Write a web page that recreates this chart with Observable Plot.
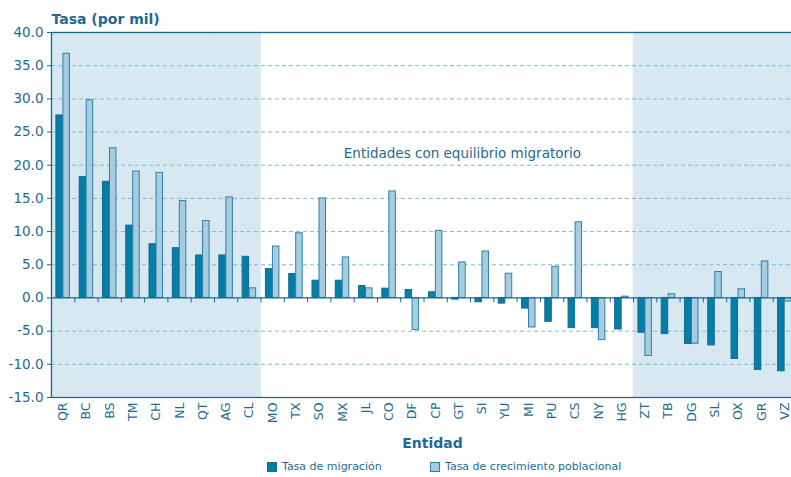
<!DOCTYPE html>
<html>
<head>
<meta charset="utf-8">
<script src="https://cdn.jsdelivr.net/npm/d3@7"></script>
<script src="https://cdn.jsdelivr.net/npm/@observablehq/plot@0.6"></script>
<style>
  html, body { margin: 0; padding: 0; background: #fff; overflow: hidden; width: 791px; height: 477px; }
  #chart svg { display: block; }
  .legend { position: relative; height: 25px; font-family: "DejaVu Sans", sans-serif; font-size: 11px; color: #1f6a92; }
  .legend .item { position: absolute; top: 8px; display: flex; align-items: center; }
  .legend .sw { width: 8px; height: 8px; border: 1px solid; margin-right: 5px; }
</style>
</head>
<body>
<div id="chart"></div>
<div class="legend" id="legend"></div>
<script>
// ---- Data ----
const entidades = ["QR","BC","BS","TM","CH","NL","QT","AG","CL","MO","TX","SO","MX","JL","CO","DF","CP","GT","SI","YU","MI","PU","CS","NY","HG","ZT","TB","DG","SL","OX","GR","VZ"];
const tasaMigracion = [27.5,18.2,17.5,10.9,8.1,7.5,6.4,6.4,6.2,4.35,3.6,2.6,2.6,1.8,1.4,1.2,0.85,-0.25,-0.65,-0.85,-1.6,-3.6,-4.55,-4.55,-4.75,-5.25,-5.45,-6.95,-7.15,-9.2,-10.85,-11.05];
const tasaCrecimiento = [36.8,29.8,22.55,19.05,18.85,14.6,11.6,15.15,1.45,7.75,9.75,15.0,6.1,1.45,16.05,-4.85,10.1,5.35,7.0,3.65,-4.45,4.7,11.4,-6.35,0.2,-8.75,0.55,-6.9,3.9,1.3,5.5,-0.55];
const sombreadas = ["QR","BC","BS","TM","CH","NL","QT","AG","CL","ZT","TB","DG","SL","OX","GR","VZ"];
const yTicks = [-15,-10,-5,0,5,10,15,20,25,30,35,40];
const gridVals = [-10,-5,5,10,15,20,25,30,35];
const titulo = "Tasa (por mil)";
const etiquetaX = "Entidad";
const anotacion = "Entidades con equilibrio migratorio";
const series = ["Tasa de migración", "Tasa de crecimiento poblacional"];

const rows = entidades.map((e, i) => ({entidad: e, mig: tasaMigracion[i], crec: tasaCrecimiento[i]}));

// ---- Style ----
const textColor = "#1f6a92";
const axisColor = "#1d6890";
const shadeColor = "#d7e8f1";
const gridColor = "#7dbad6";
const migFill = "#0080a8", migStroke = "#17698d";
const crecFill = "#a6cce0", crecStroke = "#2f7ea6";

const width = 791, height = 452;
const mL = 51, mR = -5, mT = 32, mB = 55;
const bw = (width - mL - mR) / entidades.length;
const barW = 6.5;
const inner = bw / 2 - barW - 0.25;

const chart = Plot.plot({
  width, height,
  marginLeft: mL, marginRight: mR, marginTop: mT, marginBottom: mB,
  style: {fontFamily: "DejaVu Sans, sans-serif", color: textColor, background: "transparent", overflow: "visible"},
  x: {type: "band", domain: entidades, padding: 0, round: false},
  y: {domain: [-15, 40]},
  marks: [
    Plot.barY(sombreadas, {x: d => d, y1: -15, y2: 40, fill: shadeColor, stroke: shadeColor, strokeWidth: 0.6}),
    Plot.ruleY(gridVals, {stroke: gridColor, strokeDasharray: "4,3", strokeWidth: 1}),
    Plot.barY(rows, {x: "entidad", y: "mig", fill: migFill, stroke: migStroke, strokeWidth: 1, insetLeft: inner, insetRight: bw / 2 + 0.25}),
    Plot.barY(rows, {x: "entidad", y: "crec", fill: crecFill, stroke: crecStroke, strokeWidth: 1, insetLeft: bw / 2 + 0.25, insetRight: inner}),
    Plot.ruleY([0], {stroke: axisColor, strokeWidth: 1.3}),
    Plot.ruleX(entidades.slice(1), {x: d => d, dx: -bw / 2, y1: 0, y2: -0.75, stroke: axisColor, strokeWidth: 1}),
    Plot.frame({stroke: axisColor, strokeWidth: 1.3}),
    Plot.axisY({ticks: yTicks, tickFormat: d => d.toFixed(1), tickSize: 4, tickPadding: 4, fontSize: 13.5, label: null, stroke: axisColor, color: textColor}),
    Plot.axisX({tickRotate: -90, tickSize: 0, tickPadding: 5, fontSize: 12.5, label: null, color: textColor}),
    Plot.text([titulo], {frameAnchor: "top-left", dy: -9, lineAnchor: "bottom", textAnchor: "start", fontWeight: "bold", fontSize: 14, fill: textColor}),
    Plot.text([etiquetaX], {frameAnchor: "bottom", dx: 8.5, dy: 50, lineAnchor: "bottom", fontWeight: "bold", fontSize: 14, fill: textColor}),
    Plot.text([anotacion], {x: () => "GT", y: () => 21.1, dx: 3.5, lineAnchor: "bottom", fontSize: 13.5, fill: textColor})
  ]
});
document.getElementById("chart").appendChild(chart);

const legend = document.getElementById("legend");
const legendItems = [
  {label: series[0], fill: migFill, stroke: migStroke, left: 267},
  {label: series[1], fill: crecFill, stroke: crecStroke, left: 430}
];
for (const it of legendItems) {
  const div = document.createElement("div");
  div.className = "item";
  div.style.left = it.left + "px";
  const sw = document.createElement("span");
  sw.className = "sw";
  sw.style.background = it.fill;
  sw.style.borderColor = it.stroke;
  const lab = document.createElement("span");
  lab.textContent = it.label;
  div.appendChild(sw);
  div.appendChild(lab);
  legend.appendChild(div);
}
</script>
</body>
</html>
